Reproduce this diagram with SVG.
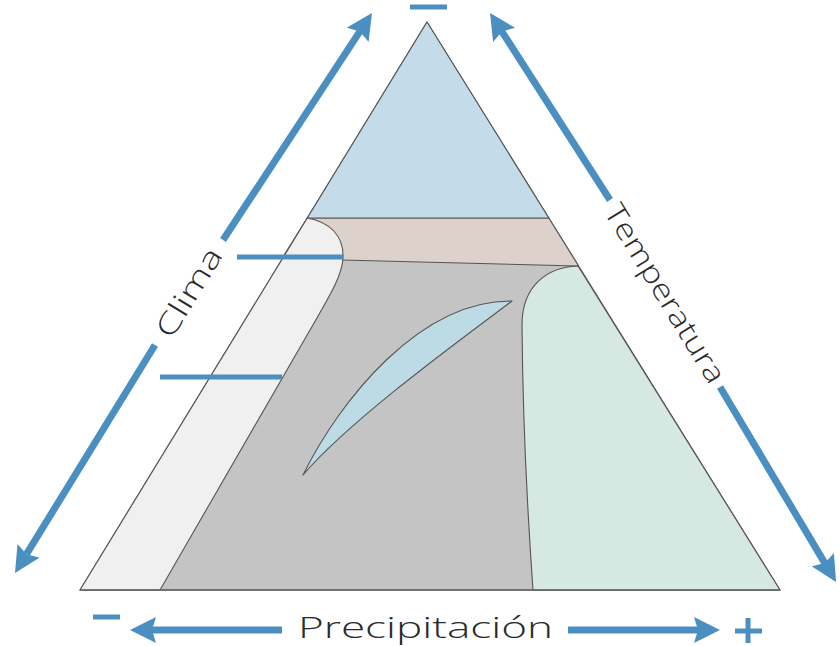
<svg xmlns="http://www.w3.org/2000/svg" width="840" height="646" viewBox="0 0 840 646">
<style>
.edge{stroke:#555;stroke-width:1.1;stroke-linejoin:round}
.arrow{stroke:#4a8fc0;stroke-width:7;fill:none}
.mark{stroke:#4a8fc0;stroke-width:5;fill:none}
.lbl{font-family:"Open Sans","Liberation Sans",Arial,sans-serif;font-weight:300;font-size:29px;fill:#2a2a2a}
</style>
<defs>
<marker id="head" viewBox="0 -13 26 26" refX="4" refY="0" markerWidth="26" markerHeight="26" markerUnits="userSpaceOnUse" orient="auto">
<path d="M0,-13 L26,0 L0,13 L4,0 Z" fill="#4a8fc0"/>
</marker>
</defs>
<rect width="840" height="646" fill="#ffffff"/>
<g id="triangle">
<path id="zone-grey" class="edge" d="M427,22 L780,590 L80,590 Z" fill="#c4c4c4"/>
<path id="zone-beige" class="edge" d="M307.3,218 L548.8,218 L578.6,266 L282,258.5 Z" fill="#dcd2cb"/>
<path id="zone-top" class="edge" d="M427,22 L548.8,218 L307.3,218 Z" fill="#c4dce9"/>
<path id="zone-left" class="edge" d="M307.3,218 C330,222 344,236 343,258 C342,276 330,295 310,330 L160,590 L80,590 Z" fill="#f0f0f0"/>
<path id="zone-right" class="edge" d="M578,266 C548,267 522,285 522,325 Q523,450 533,590 L780,590 Z" fill="#d6e8e2"/>
<path id="zone-leaf" class="edge" d="M303,475 C340,400 420,300 512,301 C460,340 350,420 303,475 Z" fill="#bddbe4"/>
<path d="M80,590 L780,590" stroke="#666" stroke-width="1.6"/>
</g>
<g id="connectors">
<line class="arrow" x1="155" y1="345" x2="26.5" y2="554.2" marker-end="url(#head)"/>
<line class="arrow" x1="223" y1="240" x2="359.9" y2="31.4" marker-end="url(#head)"/>
<line class="arrow" x1="610" y1="200" x2="501.9" y2="31.5" marker-end="url(#head)"/>
<line class="arrow" x1="720" y1="387" x2="824.8" y2="563.1" marker-end="url(#head)"/>
<line class="arrow" x1="282" y1="630" x2="152" y2="630" marker-end="url(#head)"/>
<line class="arrow" x1="568" y1="630" x2="698" y2="630" marker-end="url(#head)"/>
<line class="mark" x1="237" y1="257" x2="343" y2="257"/>
<line class="mark" x1="160" y1="377" x2="282" y2="377"/>
</g>
<g id="signs">
<line class="mark" x1="410" y1="7" x2="447" y2="7" stroke-width="4"/>
<line class="mark" x1="93" y1="617" x2="120" y2="617" stroke-width="4"/>
<line class="mark" x1="735" y1="631" x2="762" y2="631" stroke-width="4"/>
<line class="mark" x1="748" y1="618" x2="748" y2="643" stroke-width="4"/>
</g>
<g id="labels">
<text class="lbl" transform="translate(189,292.5) rotate(-58.5)" x="0" y="10" text-anchor="middle" textLength="100" lengthAdjust="spacingAndGlyphs">Clima</text>
<text class="lbl" transform="translate(665,293.5) rotate(58.5)" x="0" y="10" text-anchor="middle" textLength="204" lengthAdjust="spacingAndGlyphs">Temperatura</text>
<text class="lbl" x="298" y="638" textLength="255" lengthAdjust="spacingAndGlyphs">Precipitación</text>
</g>
</svg>
